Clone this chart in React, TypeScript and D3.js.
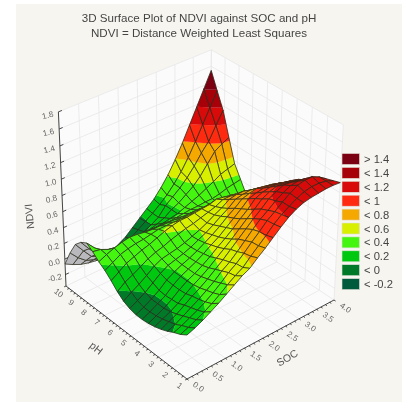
import React from "react";
import * as d3 from "d3";

const title1 = "3D Surface Plot of NDVI against SOC and pH";
const title2 = "NDVI = Distance Weighted Least Squares";
const phTicks = [1, 2, 3, 4, 5, 6, 7, 8, 9, 10];
const socTicks = [0, 0.5, 1, 1.5, 2, 2.5, 3, 3.5, 4];
const zTicks = [-0.2, 0, 0.2, 0.4, 0.6, 0.8, 1, 1.2, 1.4, 1.6, 1.8];
const legendLabels = ["> 1.4", "< 1.4", "< 1.2", "< 1", "< 0.8", "< 0.6", "< 0.4", "< 0.2", "< 0", "< -0.2"];
const legendColors = ["#7b0012", "#a80008", "#d80a0a", "#ff2a10", "#f5a800", "#d8f000", "#44f510", "#00c810", "#007a28", "#005a3c"];
const thresholds = [-0.2, 0, 0.2, 0.4, 0.6, 0.8, 1, 1.2, 1.4];

// NDVI: one row per pH step (1 to 10), one column per SOC step (0 to 4)
const grid = [
[.11,.15,.20,.26,.32,.39,.46,.53,.58,.67,.75,.84,.93,1.01,1.07,1.11,1.13,1.14,1.15,1.15,1.14],
[.05,.09,.14,.19,.25,.32,.40,.47,.53,.63,.72,.81,.91,.99,1.05,1.11,1.15,1.17,1.17,1.15,1.11],
[.01,.05,.10,.15,.21,.28,.36,.45,.52,.61,.71,.80,.90,.97,1.05,1.12,1.18,1.20,1.20,1.15,1.08],
[-.04,.00,.06,.12,.18,.25,.32,.41,.48,.57,.67,.77,.86,.93,1.01,1.07,1.12,1.13,1.12,1.07,1.01],
[-.08,-.03,.02,.09,.16,.22,.29,.37,.45,.54,.63,.72,.81,.89,.98,1.03,1.07,1.06,1.04,1.00,.95],
[-.11,-.06,-.01,.05,.13,.20,.26,.33,.41,.49,.57,.66,.75,.83,.92,.97,1.00,.99,.97,.94,.90],
[-.13,-.08,-.03,.04,.12,.19,.24,.30,.37,.45,.52,.60,.69,.77,.87,.91,.93,.92,.90,.88,.85],
[-.14,-.09,-.03,.03,.12,.19,.24,.29,.35,.42,.48,.56,.64,.72,.81,.84,.86,.85,.83,.80,.77],
[-.14,-.09,-.03,.04,.13,.19,.24,.28,.33,.39,.45,.52,.60,.67,.75,.78,.80,.78,.76,.73,.70],
[-.12,-.06,.00,.08,.16,.22,.25,.28,.32,.37,.42,.48,.55,.61,.69,.71,.72,.70,.67,.64,.61],
[-.08,-.01,.05,.12,.20,.25,.27,.29,.32,.36,.40,.45,.51,.56,.63,.65,.65,.62,.58,.55,.52],
[-.01,.07,.12,.18,.24,.28,.31,.35,.38,.41,.43,.46,.49,.52,.57,.57,.56,.53,.49,.46,.42],
[.08,.15,.22,.26,.30,.33,.37,.41,.44,.46,.46,.47,.48,.49,.52,.50,.48,.45,.41,.37,.32],
[.16,.22,.28,.31,.33,.34,.36,.38,.38,.38,.38,.38,.39,.39,.40,.39,.37,.34,.31,.28,.25],
[.22,.27,.31,.34,.36,.35,.33,.32,.32,.31,.31,.30,.30,.30,.29,.28,.26,.24,.22,.20,.18],
[.30,.28,.23,.21,.20,.21,.22,.22,.22,.22,.22,.23,.24,.25,.25,.26,.26,.28,.31,.33,.35],
[.36,.24,.12,.07,.04,.07,.10,.11,.12,.13,.14,.16,.18,.22,.26,.30,.35,.40,.46,.49,.52],
[.31,.17,.04,-.01,-.05,-.03,.00,.01,.01,.04,.07,.11,.18,.23,.30,.37,.47,.60,.73,.79,.84],
[.22,.08,-.05,-.10,-.14,-.12,-.10,-.10,-.10,-.05,.00,.06,.18,.26,.34,.44,.56,.70,.82,1.00,1.17],
[.04,-.08,-.17,-.21,-.24,-.22,-.21,-.18,-.15,-.08,-.01,.06,.14,.23,.34,.47,.63,.81,1.01,1.20,1.39],
[-.18,-.24,-.29,-.32,-.34,-.33,-.32,-.26,-.20,-.11,-.02,.07,.16,.28,.42,.59,.78,.99,1.20,1.41,1.62],
];
const N = grid.length - 1;

const O=[187,379],PU=[334,300],PV=[66,286],PW=[187,197];
const gU=.0647,gV=.0764,gW=-.0638;
const aU=[PU[0]*(1+gU)-O[0],PU[1]*(1+gU)-O[1]];
const aV=[PV[0]*(1+gV)-O[0],PV[1]*(1+gV)-O[1]];
const aW=[PW[0]*(1+gW)-O[0],PW[1]*(1+gW)-O[1]];
const depth=(u:number,v:number,w:number)=>1+gU*u+gV*v+gW*w;
const proj=(u:number,v:number,w:number):[number,number]=>{const q=depth(u,v,w);return [(O[0]+u*aU[0]+v*aV[0]+w*aW[0])/q,(O[1]+u*aU[1]+v*aV[1]+w*aW[1])/q];};

const socS=d3.scaleLinear().domain([0,4]).range([0,1]);
const phS=d3.scaleLinear().domain([1,10]).range([0,1]);
const zAxisS=d3.scaleLinear().domain([-0.35,1.8]).range([0,1]);
const zMeshS=d3.scaleLinear().domain([-0.5,1.9]).range([0,1]);
const line=d3.line();
const ptsPath=(p:[number,number][])=>line(p)+"Z";
const seg=(a:number[],b:number[])=>line([proj(a[0],a[1],a[2]),proj(b[0],b[1],b[2])])!;

type V={u:number,v:number,z:number};
const clip=(poly:V[],lvl:number,above:boolean)=>{
  const out:V[]=[];
  for(let k=0;k<poly.length;k++){
    const a=poly[k],b=poly[(k+1)%poly.length];
    const ia=above?a.z>=lvl:a.z<lvl, ib=above?b.z>=lvl:b.z<lvl;
    if(ia)out.push(a);
    if(ia!==ib){const t=(lvl-a.z)/(b.z-a.z);out.push({u:a.u+t*(b.u-a.u),v:a.v+t*(b.v-a.v),z:lvl});}
  }
  return out;
};
const P=(p:V)=>proj(p.u,p.v,zMeshS(p.z));
const bandColor=(idx:number)=>legendColors[legendColors.length-1-idx];

const cells:{d:number,els:{d:string,f:string}[],outline:string}[]=[];
for(let i=0;i<N;i++)for(let j=0;j<N;j++){
  const q:V[]=[{u:j/N,v:i/N,z:grid[i][j]},{u:(j+1)/N,v:i/N,z:grid[i][j+1]},{u:(j+1)/N,v:(i+1)/N,z:grid[i+1][j+1]},{u:j/N,v:(i+1)/N,z:grid[i+1][j]}];
  const sp=q.map(P);
  const area=d3.polygonArea(sp);
  const c={u:(j+.5)/N,v:(i+.5)/N,z:d3.mean(q,x=>x.z)!};
  const els:{d:string,f:string}[]=[];
  if(area<0){els.push({d:ptsPath(sp),f:"#b9b9bd"});}
  else{
    for(let b=0;b<=thresholds.length;b++){
      let poly=q;
      if(b>0)poly=clip(poly,thresholds[b-1],true);
      if(b<thresholds.length&&poly.length)poly=clip(poly,thresholds[b],false);
      if(poly.length>=3)els.push({d:ptsPath(poly.map(P)),f:bandColor(b)});
    }
  }
  cells.push({d:depth(c.u,c.v,zMeshS(c.z)),els,outline:ptsPath(sp)});
}
cells.sort((a,b)=>b.d-a.d);

const wall=(p:number[][])=>ptsPath(p.map(a=>proj(a[0],a[1],a[2])));
const minorSoc=d3.range(0,4.001,0.125);
const minorPh=d3.range(1,10.001,0.25);

export default function App(){
  const lab={fontFamily:"'Liberation Sans',Arial,sans-serif"};
  return <svg width={402} height={402} viewBox="0 0 402 402" style={{position:"absolute",left:0,top:0,filter:"blur(0.35px)",background:"#fff"}}>
    <rect x={16} y={4} width={386} height={398} fill="#f6f5f0"/>
    <g {...lab} fill="#444" textAnchor="middle" fontSize={11.6}>
      <text x={199} y={22}>{title1}</text>
      <text x={199} y={37}>{title2}</text>
    </g>
    <path d={wall([[0,1,0],[1,1,0],[1,1,1],[0,1,1]])} fill="#fbfbfc"/>
    <path d={wall([[1,0,0],[1,1,0],[1,1,1],[1,0,1]])} fill="#fbfbfc"/>
    <path d={wall([[0,0,0],[1,0,0],[1,1,0],[0,1,0]])} fill="#fbfbfc"/>
    <g stroke="#e7e7e9" strokeWidth={0.8} fill="none">
      {socTicks.map(s=><path key={"a"+s} d={seg([socS(s),1,0],[socS(s),1,1])+seg([socS(s),1,0],[socS(s),0,0])}/>)}
      {phTicks.map(s=><path key={"b"+s} d={seg([1,phS(s),0],[1,phS(s),1])+seg([1,phS(s),0],[0,phS(s),0])}/>)}
      {zTicks.map(s=><path key={"c"+s} d={seg([0,1,zAxisS(s)],[1,1,zAxisS(s)])+seg([1,1,zAxisS(s)],[1,0,zAxisS(s)])}/>)}
    </g>
    <g stroke="#333" strokeWidth={0.9} fill="none">
      <path d={seg([0,1,0],[0,1,1])+seg([0,1,0],[0,0,0])+seg([0,0,0],[1,0,0])}/>
      {zTicks.map(s=><path key={"t"+s} d={seg([0,1,zAxisS(s)],[0.022,1,zAxisS(s)])}/>)}
      {minorSoc.map(s=><path key={"u"+s} d={seg([socS(s),0,0],[socS(s),-0.012,0])}/>)}
      {minorPh.map(s=><path key={"v"+s} d={seg([0,phS(s),0],[-0.012,phS(s),0])}/>)}
    </g>
    {cells.map((c,k)=><g key={k}>
      {c.els.map((e,m)=><path key={m} d={e.d} fill={e.f} stroke={e.f} strokeWidth={0.2}/>)}
      <path d={c.outline} fill="none" stroke="#2a2a1a" strokeWidth={0.75}/>
    </g>)}
    <g {...lab} fill="#666" fontSize={8.2} textAnchor="middle">
      {zTicks.map(s=>{const [x,y]=proj(0,1,zAxisS(s));return <text key={s} transform={`translate(${x-10},${y+6}) rotate(-14)`}>{s.toFixed(1)}</text>;})}
      {phTicks.map(s=>{const [x,y]=proj(0,phS(s),0);return <text key={s} transform={`translate(${x-9},${y+9}) rotate(38)`}>{s}</text>;})}
      {socTicks.map(s=>{const [x,y]=proj(socS(s),0,0);return <text key={s} transform={`translate(${x+10},${y+10}) rotate(35)`}>{s.toFixed(1)}</text>;})}
    </g>
    <g {...lab} fill="#555" fontSize={10.5} textAnchor="middle">
      <text transform="translate(33,216) rotate(-96)">NDVI</text>
      <text transform="translate(94,351) rotate(38)">pH</text>
      <text transform="translate(289,361) rotate(-30)">SOC</text>
    </g>
    <g {...lab} fontSize={11.2} fill="#444">
      {legendLabels.map((l,i)=>{const y=159+i*13.9;return <g key={l}>
        <rect x={342} y={y-5.5} width={17.5} height={11} fill={legendColors[i]} stroke="#e0e0d8" strokeWidth={0.6}/>
        <text x={364} y={y+4}>{l}</text>
      </g>;})}
    </g>
  </svg>;
}
